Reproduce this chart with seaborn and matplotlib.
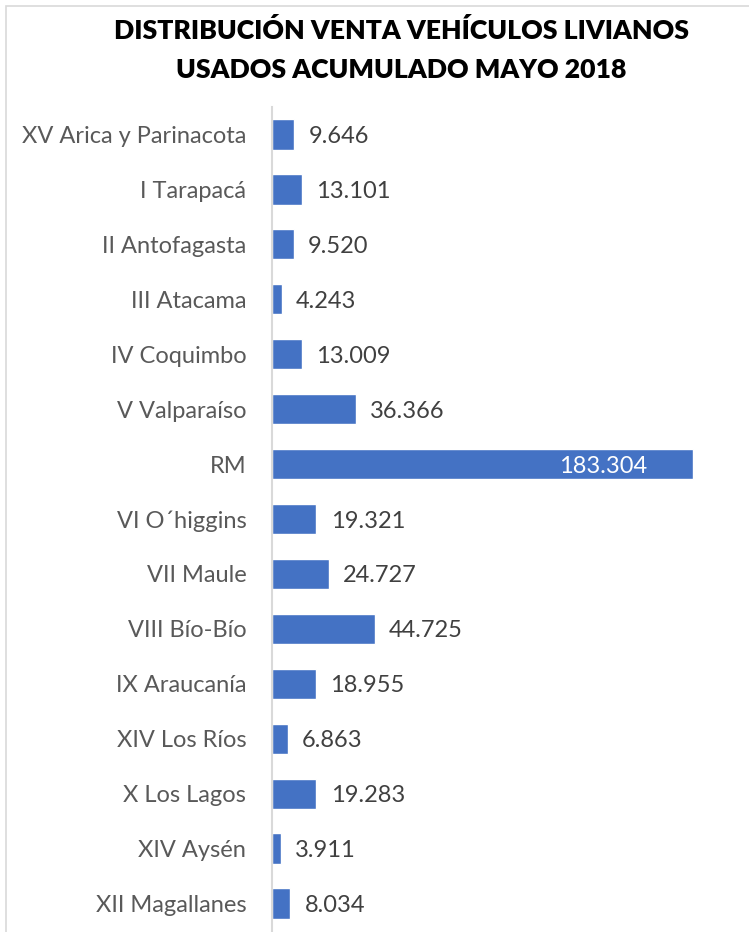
import matplotlib
matplotlib.use("Agg")
import matplotlib.pyplot as plt
import seaborn as sns
import pandas as pd
from matplotlib.patches import Rectangle

regiones = [
    "XV Arica y Parinacota", "I Tarapacá", "II Antofagasta", "III Atacama",
    "IV Coquimbo", "V Valparaíso", "RM", "VI O´higgins", "VII Maule",
    "VIII Bío-Bío", "IX Araucanía", "XIV Los Ríos", "X Los Lagos",
    "XIV Aysén", "XII Magallanes",
]
ventas = [9646, 13101, 9520, 4243, 13009, 36366, 183304, 19321, 24727,
          44725, 18955, 6863, 19283, 3911, 8034]

df = pd.DataFrame({"region": regiones, "ventas": ventas})

sns.set_style("white")
plt.rcParams["font.family"] = ["Lato", "DejaVu Sans"]

W, H = 749, 932
fig = plt.figure(figsize=(W / 100, H / 100), dpi=100)
ax = fig.add_axes([272 / W, 1 - 931 / H, (735 - 272) / W, (931 - 107) / H])

sns.barplot(data=df, y="region", x="ventas", color="#4472C4", width=0.55,
            orient="h", ax=ax, saturation=1)

ax.set_xlim(0, 183304 * (735 - 272) / (694 - 273))
ax.set_ylim(len(regiones) - 0.5, -0.5)
ax.set_xticks([])
ax.set_xlabel("")
ax.set_ylabel("")
for s in ["top", "right", "bottom"]:
    ax.spines[s].set_visible(False)
ax.spines["left"].set_color("#D9D9D9")
ax.spines["left"].set_linewidth(1.5)
ax.tick_params(axis="y", length=0, pad=18.5, labelsize=17, labelcolor="#595959")

xmax = max(ventas)
for i, v in enumerate(ventas):
    txt = f"{v:,}".replace(",", ".")
    if v == xmax:
        ax.text(v - xmax * 0.11, i, txt, ha="right", va="center_baseline",
                fontsize=17, color="white")
    else:
        ax.text(v + xmax * 0.034, i, txt, ha="left", va="center_baseline",
                fontsize=17, color="#404040")

fig.text(401 / W, 1 - 50 / H,
         "DISTRIBUCIÓN VENTA VEHÍCULOS LIVIANOS\nUSADOS ACUMULADO MAYO 2018",
         ha="center", va="center", fontsize=19.2, fontweight="heavy",
         color="black", linespacing=1.75)

fig.patches.append(Rectangle((6 / W, -0.01), 1.0, 1 - 6 / H + 0.01,
                             transform=fig.transFigure, fill=False,
                             edgecolor="#D9D9D9", linewidth=1.2))

fig.savefig("out.png", dpi=100)
